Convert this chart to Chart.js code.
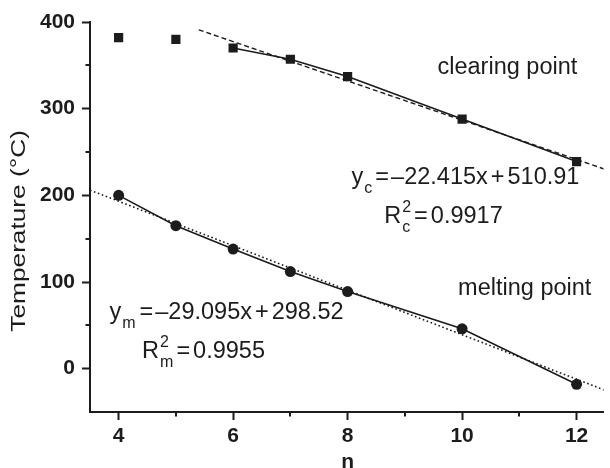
<!DOCTYPE html>
<html>
<head>
<meta charset="utf-8">
<script src="https://cdn.jsdelivr.net/npm/chart.js@4"></script>
<style>
  html, body { margin: 0; padding: 0; background: #fff; }
  #wrap { width: 610px; height: 468px; }
</style>
</head>
<body>
<div id="wrap"><canvas id="graphique"></canvas></div>
<script>
const nValues = [4, 5, 6, 7, 8, 10, 12];
const clearingPoint = [382, 380, 370, 357, 337, 288, 239];
const meltingPoint = [200, 165, 138, 112, 89, 46, -18];

const clearingFitN = [5.4, 12.5];
const clearingFitT = [391, 230];
const meltingFitN = [3.5, 12.5];
const meltingFitT = [206, -25];

const xTicks = [4, 6, 8, 10, 12];
const xMinorTicks = [5, 7, 9, 11];
const yTicks = [0, 100, 200, 300, 400];
const yMinorTicks = [50, 150, 250, 350];

const INK = '#1c1c1c';
const FONT = "'Liberation Sans', Arial, Helvetica, sans-serif";

const toPoints = (xs, ys) => xs.map((x, i) => ({ x: x, y: ys[i] }));

// annotations: left edge (n) and vertical middle (T) in data units
const notes = [
    { n: 9.57, t: 347, parts: [{ text: 'clearing point' }] },
    { n: 9.93, t: 92, parts: [{ text: 'melting point' }] },
    { n: 8.07, t: 221, parts: [{ text: 'y' }, { sub: 'c' }, { text: '=', gap: 2 }, { text: '\u201322.415x', gap: 2 }, { text: '+', gap: 3 }, { text: '510.91', gap: 3 }] },
    { n: 8.64, t: 176, parts: [{ text: 'R' }, { sup: '2', sub: 'c' }, { text: '=', gap: 2 }, { text: '0.9917', gap: 3 }] },
    { n: 3.84, t: 65, parts: [{ text: 'y' }, { sub: 'm' }, { text: '=', gap: 3 }, { text: '\u201329.095x', gap: 2 }, { text: '+', gap: 3 }, { text: '298.52', gap: 3 }] },
    { n: 4.41, t: 20, parts: [{ text: 'R' }, { sup: '2', sub: 'm' }, { text: '=', gap: 2 }, { text: '0.9955', gap: 3 }] }
];

const MAIN_SIZE = 23.5;
const SMALL_SIZE = 16;

function drawNote(ctx, x, y, parts) {
    ctx.textBaseline = 'middle';
    ctx.textAlign = 'left';
    ctx.fillStyle = INK;
    parts.forEach(p => {
        x += p.gap || 0;
        if (p.text) {
            ctx.font = MAIN_SIZE + 'px ' + FONT;
            ctx.fillText(p.text, x, y);
            x += ctx.measureText(p.text).width;
        } else {
            ctx.font = SMALL_SIZE + 'px ' + FONT;
            let w = 0;
            if (p.sup) {
                ctx.fillText(p.sup, x + 1, y - 9);
                w = Math.max(w, ctx.measureText(p.sup).width);
            }
            if (p.sub) {
                ctx.fillText(p.sub, x + 1, y + 11);
                w = Math.max(w, ctx.measureText(p.sub).width);
            }
            x += w + 2;
        }
    });
}

const extras = {
    id: 'extras',
    afterDraw(chart) {
        const ctx = chart.ctx;
        const xs = chart.scales.x;
        const ys = chart.scales.y;
        ctx.save();
        ctx.strokeStyle = INK;
        ctx.lineWidth = 2;
        ctx.beginPath();
        xMinorTicks.forEach(v => {
            const px = Math.round(xs.getPixelForValue(v));
            ctx.moveTo(px, ys.bottom);
            ctx.lineTo(px, ys.bottom + 4.5);
        });
        yMinorTicks.forEach(v => {
            const py = Math.round(ys.getPixelForValue(v));
            ctx.moveTo(xs.left - 4.5, py);
            ctx.lineTo(xs.left, py);
        });
        ctx.stroke();
        notes.forEach(nt => {
            drawNote(ctx, xs.getPixelForValue(nt.n), ys.getPixelForValue(nt.t), nt.parts);
        });

        // axis titles
        ctx.fillStyle = INK;
        ctx.textAlign = 'center';
        ctx.textBaseline = 'middle';
        ctx.save();
        ctx.translate(19, ys.getPixelForValue(159));
        ctx.rotate(-Math.PI / 2);
        ctx.scale(1.25, 1);
        ctx.font = '21px ' + FONT;
        ctx.fillText('Temperature (\u00B0C)', 0, 0);
        ctx.restore();
        ctx.font = 'bold 21px ' + FONT;
        ctx.fillText('n', xs.getPixelForValue(8), 462);
        ctx.restore();
    }
};

new Chart(document.getElementById('graphique'), {
    type: 'scatter',
    data: {
        datasets: [
            {
                label: 'clearing point',
                data: toPoints(nValues, clearingPoint),
                showLine: true,
                borderColor: INK,
                borderWidth: 1.6,
                backgroundColor: INK,
                pointStyle: 'rect',
                pointRadius: 6.5,
                pointBorderWidth: 0,
                segment: {
                    borderColor: c => c.p0DataIndex < 2 ? 'rgba(0,0,0,0)' : INK
                }
            },
            {
                label: 'melting point',
                data: toPoints(nValues, meltingPoint),
                showLine: true,
                borderColor: INK,
                borderWidth: 1.6,
                backgroundColor: INK,
                pointStyle: 'circle',
                pointRadius: 5.5,
                pointBorderWidth: 0
            },
            {
                label: 'clearing fit',
                data: toPoints(clearingFitN, clearingFitT),
                showLine: true,
                borderColor: INK,
                borderWidth: 1.4,
                borderDash: [5, 3],
                pointRadius: 0
            },
            {
                label: 'melting fit',
                data: toPoints(meltingFitN, meltingFitT),
                showLine: true,
                borderColor: INK,
                borderWidth: 1.6,
                borderDash: [1.6, 2.6],
                pointRadius: 0
            }
        ]
    },
    options: {
        responsive: true,
        maintainAspectRatio: false,
        animation: false,
        layout: { padding: { top: 22, right: 0, left: 0, bottom: 0 } },
        plugins: {
            legend: { display: false },
            tooltip: { enabled: false }
        },
        scales: {
            x: {
                type: 'linear',
                min: 3.5,
                max: 12.47,
                afterBuildTicks: s => { s.ticks = xTicks.map(v => ({ value: v })); },
                afterFit: s => { s.height = 56; },
                grid: { drawOnChartArea: false, drawTicks: true, tickLength: 8, tickColor: INK, tickWidth: 2 },
                border: { display: true, color: INK, width: 2 },
                ticks: {
                    color: INK,
                    padding: 4,
                    maxRotation: 0,
                    font: { family: FONT, size: 21, weight: 'bold' }
                }
            },
            y: {
                min: -50,
                max: 400,
                afterBuildTicks: s => { s.ticks = yTicks.map(v => ({ value: v })); },
                afterFit: s => { s.width = 90; },
                grid: { drawOnChartArea: false, drawTicks: true, tickLength: 8, tickColor: INK, tickWidth: 2 },
                border: { display: true, color: INK, width: 2 },
                ticks: {
                    color: INK,
                    padding: 7,
                    font: { family: FONT, size: 21, weight: 'bold' }
                }
            }
        }
    },
    plugins: [extras]
});
</script>
</body>
</html>
